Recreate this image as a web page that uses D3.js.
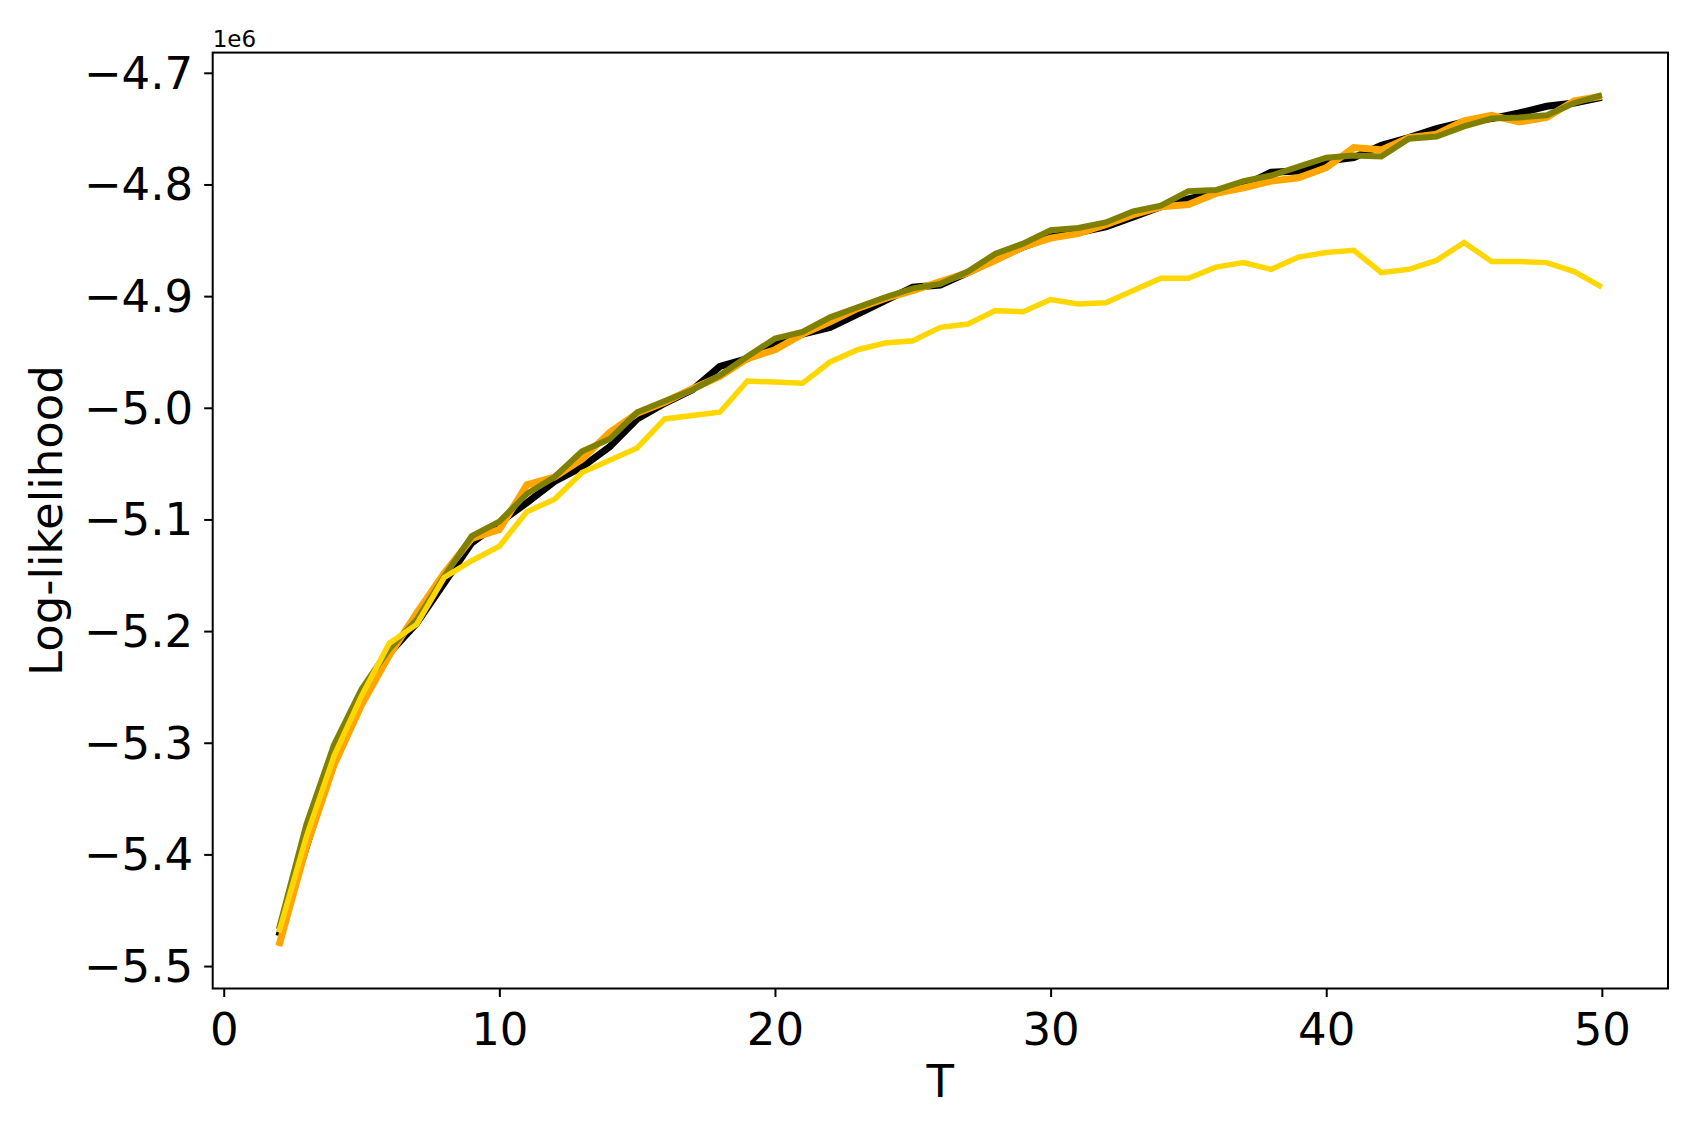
<!DOCTYPE html>
<html>
<head>
<meta charset="utf-8">
<script src="https://cdn.jsdelivr.net/npm/d3@7"></script>
<style>
  html, body { margin: 0; padding: 0; background: #fff; }
  svg { display: block; font-family: "DejaVu Sans", sans-serif; }
</style>
</head>
<body>
<svg id="chart" width="1684" height="1126"></svg>
<script>
// ---- data ----
const T = [2,3,4,5,6,7,8,9,10,11,12,13,14,15,16,17,18,19,20,21,22,23,24,25,26,27,28,29,30,31,32,33,34,35,36,37,38,39,40,41,42,43,44,45,46,47,48,49,50];

const seriesBlack = [-5.473,-5.393,-5.316,-5.262,-5.220,-5.193,-5.157,-5.121,-5.103,-5.085,-5.066,-5.053,-5.035,-5.010,-4.996,-4.984,-4.963,-4.956,-4.941,-4.934,-4.928,-4.916,-4.904,-4.892,-4.890,-4.879,-4.867,-4.856,-4.847,-4.843,-4.838,-4.829,-4.820,-4.813,-4.807,-4.801,-4.789,-4.788,-4.779,-4.776,-4.765,-4.758,-4.750,-4.744,-4.741,-4.736,-4.730,-4.727,-4.722];

const seriesOrange = [-5.482,-5.393,-5.320,-5.266,-5.222,-5.184,-5.148,-5.117,-5.109,-5.069,-5.062,-5.046,-5.022,-5.005,-4.995,-4.983,-4.972,-4.956,-4.948,-4.934,-4.923,-4.911,-4.902,-4.895,-4.887,-4.879,-4.868,-4.856,-4.848,-4.844,-4.836,-4.827,-4.820,-4.818,-4.808,-4.803,-4.797,-4.794,-4.785,-4.767,-4.769,-4.758,-4.755,-4.743,-4.738,-4.744,-4.740,-4.725,-4.721];

const seriesOlive = [-5.467,-5.373,-5.302,-5.252,-5.216,-5.190,-5.151,-5.115,-5.102,-5.077,-5.062,-5.039,-5.028,-5.004,-4.994,-4.984,-4.971,-4.954,-4.938,-4.932,-4.919,-4.910,-4.901,-4.893,-4.889,-4.878,-4.862,-4.853,-4.841,-4.839,-4.834,-4.824,-4.819,-4.806,-4.805,-4.797,-4.792,-4.784,-4.776,-4.774,-4.775,-4.759,-4.757,-4.748,-4.741,-4.740,-4.738,-4.727,-4.720];

const seriesGold = [-5.470,-5.384,-5.312,-5.258,-5.211,-5.194,-5.152,-5.137,-5.124,-5.093,-5.082,-5.058,-5.047,-5.036,-5.010,-5.007,-5.004,-4.976,-4.977,-4.978,-4.959,-4.948,-4.942,-4.940,-4.928,-4.925,-4.913,-4.914,-4.903,-4.907,-4.906,-4.895,-4.884,-4.884,-4.874,-4.870,-4.876,-4.865,-4.861,-4.859,-4.879,-4.876,-4.868,-4.852,-4.869,-4.869,-4.870,-4.878,-4.892];

const xTicks = [0,10,20,30,40,50];
const yTicks = [-5.5,-5.4,-5.3,-5.2,-5.1,-5.0,-4.9,-4.8,-4.7];
const xLabel = "T";
const yLabel = "Log-likelihood";
const offsetLabel = "1e6";

// ---- layout ----
const svg = d3.select("#chart");
const mLeft = 212.7, mRight = 1668, mTop = 52.6, mBottom = 988.5;

const allY = [].concat(seriesBlack, seriesOrange, seriesOlive, seriesGold);
const yMin = d3.min(allY), yMax = d3.max(allY);
const yPad = (yMax - yMin) * 0.05;
const xPad = (d3.max(T) - d3.min(T)) * 0.05;

const x = d3.scaleLinear().domain([d3.min(T) - xPad, d3.max(T) + xPad]).range([mLeft, mRight]);
const y = d3.scaleLinear().domain([yMin - yPad, yMax + yPad]).range([mBottom, mTop]);

const fmtY = d => d3.format(".1f")(d).replace("-", "\u2212");

// lines
const line = d3.line().x(d => x(d[0])).y(d => y(d[1]));
const series = [
  { vals: seriesBlack,  color: "#000000", w: 7 },
  { vals: seriesOrange, color: "#FFA500", w: 7 },
  { vals: seriesOlive,  color: "#808000", w: 6 },
  { vals: seriesGold,   color: "#FFD700", w: 5.5 }
];
const plot = svg.append("g");
series.forEach(s => {
  plot.append("path")
    .datum(T.map((t, i) => [t, s.vals[i]]))
    .attr("d", line)
    .attr("fill", "none")
    .attr("stroke", s.color)
    .attr("stroke-width", s.w)
    .attr("stroke-linejoin", "miter")
    .attr("stroke-linecap", "butt");
});

// axes
const xAxis = d3.axisBottom(x).tickValues(xTicks).tickSize(8.5).tickPadding(10).tickFormat(d3.format("d"));
const yAxis = d3.axisLeft(y).tickValues(yTicks).tickSize(8.5).tickPadding(10).tickFormat(fmtY);

const gx = svg.append("g").attr("transform", `translate(0,${mBottom})`).call(xAxis);
const gy = svg.append("g").attr("transform", `translate(${mLeft},0)`).call(yAxis);
[gx, gy].forEach(g => {
  g.select(".domain").remove();
  g.selectAll(".tick line").attr("stroke", "#000").attr("stroke-width", 2);
  g.selectAll(".tick text").attr("fill", "#000").style("font-size", "45px").style("font-family", "DejaVu Sans");
});
gx.selectAll(".tick text").attr("dy", null).attr("y", 56);
gy.selectAll(".tick text").attr("dy", null).attr("y", 0).attr("dominant-baseline", "central").attr("x", -19.5);

// frame
svg.append("rect")
  .attr("x", mLeft).attr("y", mTop)
  .attr("width", mRight - mLeft).attr("height", mBottom - mTop)
  .attr("fill", "none").attr("stroke", "#000").attr("stroke-width", 2);

// labels
svg.append("text")
  .attr("x", (mLeft + mRight) / 2).attr("y", 1097)
  .attr("text-anchor", "middle")
  .style("font-size", "45px")
  .text(xLabel);

svg.append("text")
  .attr("transform", `translate(62,${(mTop + mBottom) / 2}) rotate(-90)`)
  .attr("text-anchor", "middle")
  .style("font-size", "45px")
  .text(yLabel);

svg.append("text")
  .attr("x", mLeft).attr("y", 46.5)
  .style("font-size", "23px")
  .text(offsetLabel);
</script>
</body>
</html>
